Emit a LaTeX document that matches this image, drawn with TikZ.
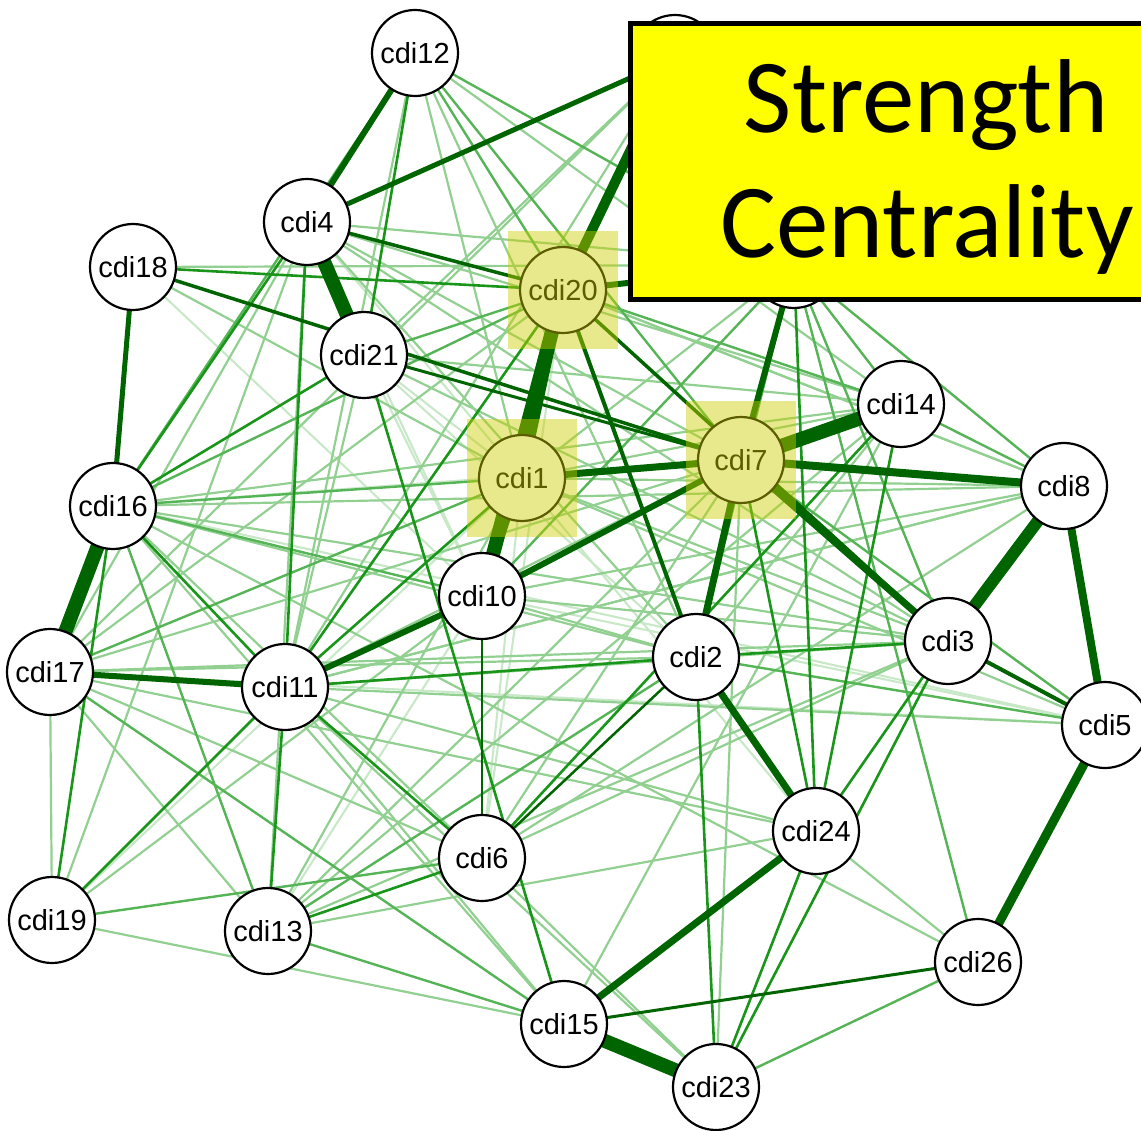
\documentclass[tikz,border=0pt]{standalone}
\usepackage{fontspec}
\newfontfamily\labelfont{Liberation Sans}
\newfontfamily\titlefont{Carlito}
\pgfdeclarelayer{edges}
\pgfdeclarelayer{front}
\pgfsetlayers{edges,main,front}
\definecolor{edk}{RGB}{0,100,0}
\definecolor{emg}{RGB}{25,150,25}
\definecolor{emd}{RGB}{85,180,85}
\definecolor{elt}{RGB}{145,208,145}
\definecolor{evl}{RGB}{200,232,200}
\definecolor{hlyellow}{RGB}{204,204,0}
\definecolor{titleyellow}{RGB}{255,255,0}
\begin{document}
\begin{tikzpicture}[x=1pt,y=-1pt,line cap=butt,
  nd/.style={circle,draw=black,line width=2.2pt,fill=white,minimum size=86pt,inner sep=0pt,
    font=\labelfont\fontsize{29}{34}\selectfont},
  hl/.style={fill=hlyellow,fill opacity=0.45,draw=none,minimum width=110pt,minimum height=118pt,inner sep=0pt},
  dk/.style={draw=edk},
  mgline/.style={draw=emg,line width=2.6pt},
  mdline/.style={draw=emd,line width=2.4pt},
  ltline/.style={draw=elt,line width=2.2pt},
  vlline/.style={draw=evl,line width=2.1pt},
  title/.style={font=\titlefont\fontsize{105}{125}\selectfont,anchor=base,inner sep=0pt}]
\useasboundingbox (0,0) rectangle (1141,1131);
\clip (0,0) rectangle (1141,1131);

% network nodes (the two under the title panel carry no visible label)
\node[nd] (n1)  at (522,478)  {cdi1};
\node[nd] (n2)  at (696,657)  {cdi2};
\node[nd] (n3)  at (948,641)  {cdi3};
\node[nd] (n4)  at (307,222)  {cdi4};
\node[nd] (n5)  at (1105,725) {cdi5};
\node[nd] (n6)  at (482,858)  {cdi6};
\node[nd] (n7)  at (741,460)  {cdi7};
\node[nd] (n8)  at (1064,486) {cdi8};
\node[nd] (n9)  at (675,58)   {};
\node[nd] (n10) at (482,596)  {cdi10};
\node[nd] (n11) at (285,687)  {cdi11};
\node[nd] (n12) at (415,53)   {cdi12};
\node[nd] (n13) at (268,931)  {cdi13};
\node[nd] (n14) at (901,404)  {cdi14};
\node[nd] (n15) at (564,1024) {cdi15};
\node[nd] (n16) at (113,506)  {cdi16};
\node[nd] (n17) at (50,672)   {cdi17};
\node[nd] (n18) at (133,267)  {cdi18};
\node[nd] (n19) at (52,920)   {cdi19};
\node[nd] (n20) at (563,290)  {cdi20};
\node[nd] (n21) at (364,355)  {cdi21};
\node[nd] (n22) at (794,265)  {};
\node[nd] (n23) at (716,1087) {cdi23};
\node[nd] (n24) at (816,831)  {cdi24};
\node[nd] (n26) at (978,962)  {cdi26};

\begin{pgfonlayer}{edges}
% weakest connections first
\foreach \a/\b in {1/24,16/5,16/7,4/10,4/1,19/1,21/10,21/2,6/1,10/5,13/10,17/5,18/10,21/1,20/6}
  \draw[vlline] (n\a.center) -- (n\b.center);
\foreach \a/\b in {12/11,12/1,12/2,12/14,18/22,18/1,4/22,4/17,4/19,4/13,4/7,4/3,4/2,4/14,
  9/21,9/11,9/17,16/14,16/2,16/3,16/6,16/15,16/26,17/2,17/3,17/6,17/13,17/19,17/24,
  11/21,11/3,11/5,11/8,11/15,11/23,11/24,13/3,13/1,13/24,13/7,19/15,19/10,6/8,6/3,6/7,
  6/23,15/14,14/2,14/13,14/1,14/21,8/10,8/11,8/1,8/16,8/20,3/10,3/1,3/21,10/2,7/23,
  7/17,7/11,24/26,22/1,1/5,20/8,20/17}
  \draw[ltline] (n\a.center) -- (n\b.center);
\foreach \a/\b in {12/20,12/7,12/22,12/16,16/10,16/13,16/1,17/1,17/15,2/5,13/15,13/2,
  22/14,22/8,22/3,22/2,22/10,14/8,26/22,26/23,21/20,20/14,20/16,7/5,19/6}
  \draw[mdline] (n\a.center) -- (n\b.center);
\foreach \a/\b in {12/21,16/4,16/21,16/19,16/11,11/4,11/20,11/1,11/2,11/13,11/6,11/19,
  21/15,6/13,6/14,3/24,3/23,22/24,14/24,7/24,24/23,2/23,2/3,18/20}
  \draw[mgline] (n\a.center) -- (n\b.center);
% strongest connections, width by weight
\foreach \a/\b/\w in {6/10/2.5,6/2/2.5,21/7/3,18/7/3.5,20/3/3.5,4/20/3.5,20/2/4,3/5/4,
  15/26/3,1/10/5,4/9/5,18/16/5,4/12/6,17/11/6,11/10/6,10/7/6,22/7/6,20/22/6,
  1/7/7,7/2/7,7/3/7,2/24/7,24/15/7,7/8/8,8/5/8,20/1/9,5/26/9,20/9/10,8/3/12,
  20/10/14,4/21/14,16/17/14,7/14/14,15/23/14}
  \draw[dk,line width=\w pt] (n\a.center) -- (n\b.center);
\end{pgfonlayer}

\begin{pgfonlayer}{front}
% highlighted nodes
\node[hl] (h20) at (n20.center) {};
\node[hl] (h1)  at (n1.center)  {};
\node[hl] (h7)  at (n7.center)  {};
% title panel
\draw[line width=5pt,fill=titleyellow] (630,24) rectangle (1170,300);
\node[title] (t1) at (926,133) {Strength};
\node[title] (t2) at (927,258) {Centrality};
\end{pgfonlayer}
\end{tikzpicture}
\end{document}
